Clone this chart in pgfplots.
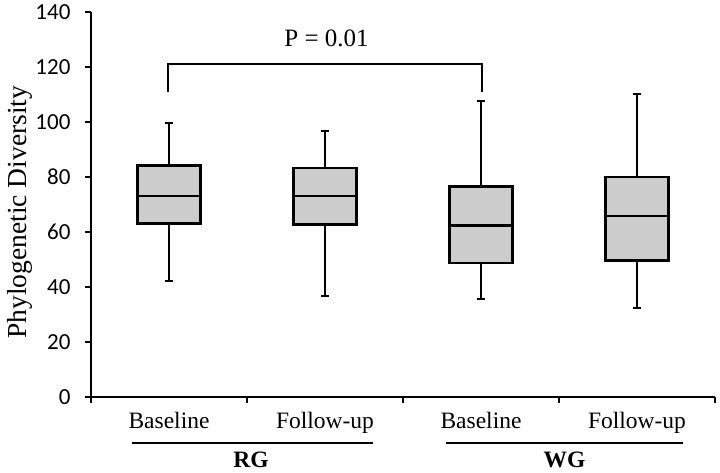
\documentclass[border=0pt]{standalone}
\usepackage{fontspec}
\setmainfont{Liberation Serif}
\newfontfamily\carlito{Carlito}
\newcommand\tl[1]{{\carlito\fontsize{23}{25}\selectfont #1}}
\usepackage{pgfplots}
\pgfplotsset{compat=1.18}
\usepgfplotslibrary{statistics}
\begin{document}
\begin{tikzpicture}
\begin{axis}[
  at={(0,0)}, anchor=south west,
  scale only axis, width=624pt, height=385pt,
  clip=false,
  xmin=0.5, xmax=4.5, ymin=0, ymax=140,
  axis lines=left,
  axis line style={line width=1.8pt, -},
  ytick={0,20,40,60,80,100,120,140},
  yticklabels={\tl{0},\tl{20},\tl{40},\tl{60},\tl{80},\tl{100},\tl{120},\tl{140}},
  xtick={0.5,1.5,2.5,3.5,4.5},
  xticklabels={},
  extra x ticks={1,2,3,4},
  extra x tick labels={Baseline,Follow-up,Baseline,Follow-up},
  extra x tick style={major tick length=0pt,
     xticklabel style={anchor=base, yshift=-31pt, font=\fontsize{23.5}{26}\selectfont}},
  tick align=outside,
  major tick length=6pt,
  tick style={line width=1.8pt, black},
  yticklabel style={anchor=east, xshift=-11pt},
  ylabel={Phylogenetic Diversity},
  ylabel style={font=\fontsize{27.5}{30}\selectfont,
     at={([xshift=-64pt]axis description cs:0,0.48)}, anchor=base},
  boxplot/draw direction=y,
  boxplot/every whisker/.style={line width=2.2pt},
  boxplot/every box/.style={line width=2.8pt, fill=gray!40},
  boxplot/every median/.style={line width=2.6pt},
]
\addplot[draw=black, fill=gray!40, line width=2.4pt,
  boxplot prepared={draw position=1, lower whisker=42.1, lower quartile=63.1,
    median=73.1, upper quartile=84.3, upper whisker=99.6,
    box extend=0.4, whisker extend=0.045}] coordinates {};
\addplot[draw=black, fill=gray!40, line width=2.4pt,
  boxplot prepared={draw position=2, lower whisker=36.6, lower quartile=62.7,
    median=73.1, upper quartile=83.3, upper whisker=96.7,
    box extend=0.4, whisker extend=0.045}] coordinates {};
\addplot[draw=black, fill=gray!40, line width=2.4pt,
  boxplot prepared={draw position=3, lower whisker=35.5, lower quartile=48.7,
    median=62.3, upper quartile=76.6, upper whisker=107.5,
    box extend=0.4, whisker extend=0.045}] coordinates {};
\addplot[draw=black, fill=gray!40, line width=2.4pt,
  boxplot prepared={draw position=4, lower whisker=32.5, lower quartile=49.7,
    median=65.8, upper quartile=80.0, upper whisker=110.2,
    box extend=0.4, whisker extend=0.045}] coordinates {};
% significance bracket
\addplot[black, line width=2.4pt, line join=miter, mark=none]
  coordinates {(0.994,111) (0.994,121) (3.006,121) (3.006,111)};
\node[anchor=base, font=\fontsize{25}{27}\selectfont] at (axis cs:2.01,127.4) {P = 0.01};
% group lines and labels
\draw[line width=2.8pt, black] ([yshift=-46pt]axis cs:0.763,0) -- ([yshift=-46pt]axis cs:2.308,0);
\draw[line width=2.8pt, black] ([yshift=-46pt]axis cs:2.776,0) -- ([yshift=-46pt]axis cs:4.295,0);
\node[anchor=base, font=\bfseries\fontsize{23.5}{26}\selectfont] at ([yshift=-70pt]axis cs:1.526,0) {RG};
\node[anchor=base, font=\bfseries\fontsize{23.5}{26}\selectfont] at ([yshift=-70pt]axis cs:3.536,0) {WG};
\end{axis}
\pgfresetboundingbox
\useasboundingbox (-91pt,-75pt) rectangle (629pt,397pt);
\end{tikzpicture}
\end{document}
